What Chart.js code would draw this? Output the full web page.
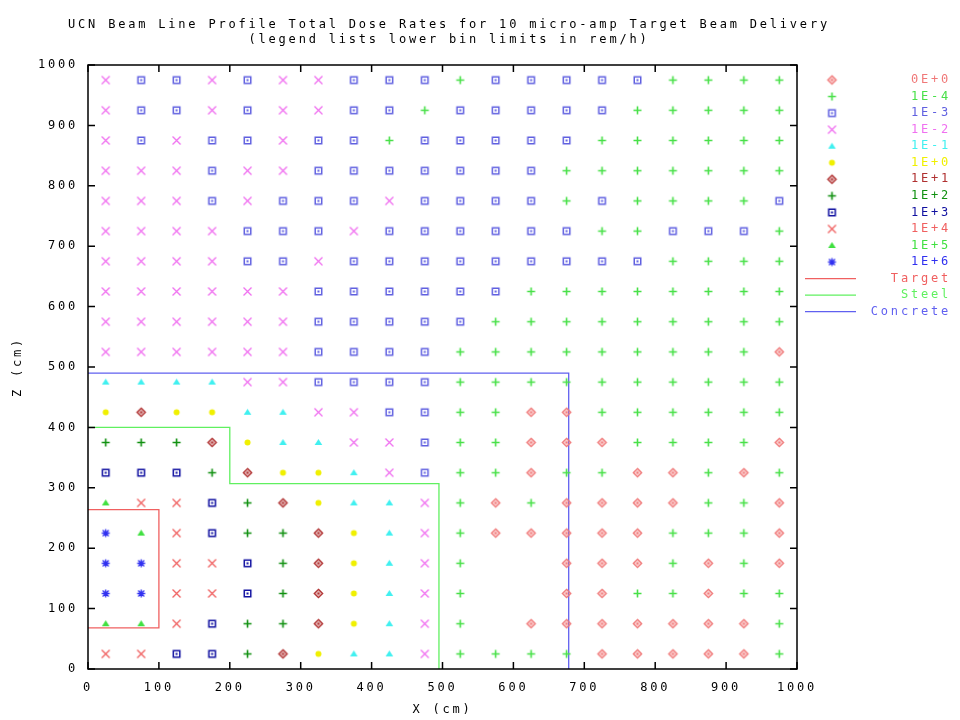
<!DOCTYPE html>
<html>
<head>
<meta charset="utf-8">
<script src="https://cdn.jsdelivr.net/npm/chart.js@4.4.0/dist/chart.umd.min.js"></script>
<style>
  html, body { margin: 0; padding: 0; background: #fff; }
  canvas { display: block; }
</style>
</head>
<body>
<canvas id="doseChart" width="960" height="720"></canvas>
<script>
// mesh cell centres (cm)
const xCenters = [25, 75, 125, 175, 225, 275, 325, 375, 425, 475, 525, 575, 625, 675, 725, 775, 825, 875, 925, 975];
const zCenters = [975, 925, 875, 825, 775, 725, 675, 625, 575, 525, 475, 425, 375, 325, 275, 225, 175, 125, 75, 25];

// lower bin limits in rem/h
const binLabels = ['0E+0', '1E-4', '1E-3', '1E-2', '1E-1', '1E+0', '1E+1', '1E+2', '1E+3', '1E+4', '1E+5', '1E+6'];
const binCodes = 'ABCDEFGHIJKL';

// bin of every cell, one string per z row (top row first), '.' = no point
const binRows = [
  'DCCDCDDCCCBCCCCCBBBB', // 975
  'DCCDCDDCCBCCCCCBBBBB', // 925
  'DCDCCDCCBCCCCCBBBBBB', // 875
  'DDDCDDCCCCCCCBBBBBBB', // 825
  'DDDCDCCCDCCCCBCBBBBC', // 775
  'DDDDCCCDCCCCCCBBCCCB', // 725
  'DDDDCCDCCCCCCCCCBBBB', // 675
  'DDDDDDCCCCCCBBBBBBBB', // 625
  'DDDDDDCCCCCBBBBBBBBB', // 575
  'DDDDDDCCCCBBBBBBBBBA', // 525
  'EEEEDDCCCCBBBBBBBBBB', // 475
  'FGFFEEDDCCBBAABBBBBB', // 425
  'HHHGFEEDDCBBAAABBBBA', // 375
  'IIIHGFFEDCBBABBAABAB', // 325
  'KJJIHGFEEDBABAAAABBA', // 275
  'LKJIHHGFEDBAAAAABBBA', // 225
  'LLJJIHGFEDB..AAABABA', // 175
  'LLJJIHGFEDB..AABBABB', // 125
  'KKJIHHGFEDB.AAAAAAAB', // 75
  'JJIIHGFEEDBBBBAAAAAB'  // 25
];

// material outlines (cm)
const targetX = [0, 100, 100, 0];
const targetZ = [264, 264, 68, 68];
const steelX = [0, 200, 200, 495, 495];
const steelZ = [400, 400, 307, 307, 0];
const concreteX = [0, 678, 678];
const concreteZ = [490, 490, 0];

const binColors = ['#f07878', '#48e048', '#6060e0', '#f070f0', '#40f0f0', '#f0f000',
                   '#b03030', '#109010', '#1010a0', '#f06060', '#40e040', '#3030f0'];
const binShapes = ['diamond', 'plus', 'box', 'cross', 'triangle', 'dot',
                   'diamond', 'plus', 'box', 'cross', 'triangle', 'star'];

const FONT = 'DejaVu Sans Mono';
const SPACING = '2.8px';

// small gnuplot-like point symbols
function makeMarker(shape, color) {
  const size = 13, c = 6.5;
  const cv = document.createElement('canvas');
  cv.width = size; cv.height = size;
  const g = cv.getContext('2d');
  g.strokeStyle = color;
  g.fillStyle = color;
  g.lineWidth = 1.3;
  g.beginPath();
  if (shape === 'plus') {
    g.lineWidth = 1.6;
    g.moveTo(c - 4, c); g.lineTo(c + 4, c);
    g.moveTo(c, c - 4); g.lineTo(c, c + 4);
    g.stroke();
  } else if (shape === 'cross') {
    g.moveTo(c - 4, c - 4); g.lineTo(c + 4, c + 4);
    g.moveTo(c + 4, c - 4); g.lineTo(c - 4, c + 4);
    g.stroke();
  } else if (shape === 'box') {
    g.fillRect(c - 4, c - 4, 8, 8);
    g.clearRect(c - 2.5, c - 2.5, 5, 5);
    g.fillRect(c - 1, c - 1, 2, 2);
  } else if (shape === 'diamond') {
    g.moveTo(c, c - 4.2); g.lineTo(c + 4.2, c); g.lineTo(c, c + 4.2); g.lineTo(c - 4.2, c);
    g.closePath();
    g.globalAlpha = 0.35; g.fill(); g.globalAlpha = 1;
    g.stroke();
    g.fillRect(c - 1, c - 1, 2, 2);
  } else if (shape === 'triangle') {
    g.moveTo(c, c - 3.5); g.lineTo(c + 3.8, c + 2.5); g.lineTo(c - 3.8, c + 2.5);
    g.closePath();
    g.fill();
  } else if (shape === 'dot') {
    g.arc(c, c, 3, 0, Math.PI * 2);
    g.fill();
  } else if (shape === 'star') {
    g.moveTo(c - 4, c); g.lineTo(c + 4, c);
    g.moveTo(c, c - 4); g.lineTo(c, c + 4);
    g.moveTo(c - 3, c - 3); g.lineTo(c + 3, c + 3);
    g.moveTo(c + 3, c - 3); g.lineTo(c - 3, c + 3);
    g.stroke();
    g.beginPath(); g.arc(c, c, 2, 0, Math.PI * 2); g.fill();
  }
  return cv;
}

// build one scatter dataset per dose bin
const binSets = binLabels.map((label, b) => {
  const pts = [];
  binRows.forEach((row, r) => {
    for (let i = 0; i < row.length; i++) {
      if (row[i] === binCodes[b]) pts.push({ x: xCenters[i], y: zCenters[r] });
    }
  });
  return {
    label: label,
    data: pts,
    pointStyle: makeMarker(binShapes[b], binColors[b]),
    borderColor: binColors[b],
    backgroundColor: binColors[b],
    showLine: false
  };
});

function outline(label, xs, zs, color) {
  return {
    label: label,
    data: xs.map((x, i) => ({ x: x, y: zs[i] })),
    showLine: true,
    borderColor: color,
    backgroundColor: color,
    borderWidth: 1.3,
    pointRadius: 0,
    fill: false,
    tension: 0
  };
}

const lineSets = [
  outline('Target', targetX, targetZ, '#f06060'),
  outline('Steel', steelX, steelZ, '#60f060'),
  outline('Concrete', concreteX, concreteZ, '#6060f0')
];

// letter spacing to mimic the wide bitmap font
const spacingPlugin = {
  id: 'spacing',
  beforeInit(chart) { chart.ctx.letterSpacing = SPACING; },
  beforeLayout(chart) { chart.ctx.letterSpacing = SPACING; },
  beforeDraw(chart) { chart.ctx.letterSpacing = SPACING; }
};

// full box around the plot with inward ticks on every side
const framePlugin = {
  id: 'frame',
  afterDatasetsDraw(chart) {
    const { ctx, chartArea: a, scales } = chart;
    ctx.save();
    ctx.strokeStyle = '#000';
    ctx.lineWidth = 1.5;
    ctx.strokeRect(a.left, a.top, a.right - a.left, a.bottom - a.top);
    ctx.beginPath();
    scales.x.ticks.forEach(t => {
      const px = scales.x.getPixelForValue(t.value);
      ctx.moveTo(px, a.bottom); ctx.lineTo(px, a.bottom - 7);
      ctx.moveTo(px, a.top); ctx.lineTo(px, a.top + 7);
    });
    scales.y.ticks.forEach(t => {
      const py = scales.y.getPixelForValue(t.value);
      ctx.moveTo(a.left, py); ctx.lineTo(a.left + 7, py);
      ctx.moveTo(a.right, py); ctx.lineTo(a.right - 7, py);
    });
    ctx.stroke();
    ctx.restore();
  }
};

// title lines and the right-hand legend
const textPlugin = {
  id: 'sideText',
  afterDraw(chart) {
    const ctx = chart.ctx;
    ctx.save();
    ctx.letterSpacing = SPACING;
    ctx.font = '12px "' + FONT + '"';
    ctx.textBaseline = 'middle';
    ctx.textAlign = 'center';
    ctx.fillStyle = '#000';
    ctx.fillText('UCN Beam Line Profile Total Dose Rates for 10 micro-amp Target Beam Delivery', 449, 25);
    ctx.fillText('(legend lists lower bin limits in rem/h)', 449, 40);

    ctx.textAlign = 'right';
    chart.data.datasets.forEach((ds, i) => {
      const y = 80 + i * 16.55;
      if (ds.showLine) {
        ctx.strokeStyle = ds.borderColor;
        ctx.lineWidth = 1.3;
        ctx.beginPath();
        ctx.moveTo(805, y); ctx.lineTo(856, y);
        ctx.stroke();
      } else {
        const img = ds.pointStyle;
        ctx.drawImage(img, 832 - img.width / 2, y - img.height / 2);
      }
      ctx.fillStyle = ds.borderColor;
      ctx.fillText(ds.label, 951, y);
    });
    ctx.restore();
  }
};

Chart.defaults.font.family = FONT;
Chart.defaults.font.size = 12;
Chart.defaults.color = '#000';

new Chart(document.getElementById('doseChart'), {
  type: 'scatter',
  data: { datasets: binSets.concat(lineSets) },
  options: {
    responsive: false,
    animation: false,
    layout: { padding: { top: 65, right: 163, left: 0, bottom: 0 } },
    plugins: {
      legend: { display: false },
      title: { display: false },
      tooltip: { enabled: false }
    },
    scales: {
      x: {
        type: 'linear',
        min: 0, max: 1000,
        grid: { display: false, drawTicks: false },
        border: { display: false },
        ticks: { stepSize: 100, padding: 12, callback: v => String(v) },
        title: { display: true, text: 'X (cm)', padding: { top: 0, bottom: 3 } },
        afterFit(scale) { scale.height = 51; }
      },
      y: {
        type: 'linear',
        min: 0, max: 1000,
        grid: { display: false, drawTicks: false },
        border: { display: false },
        ticks: { stepSize: 100, padding: 10, callback: v => String(v) },
        title: { display: true, text: 'Z (cm)', padding: { top: 11, bottom: 0 } },
        afterFit(scale) { scale.width = 88; }
      }
    }
  },
  plugins: [spacingPlugin, framePlugin, textPlugin]
});
</script>
</body>
</html>
